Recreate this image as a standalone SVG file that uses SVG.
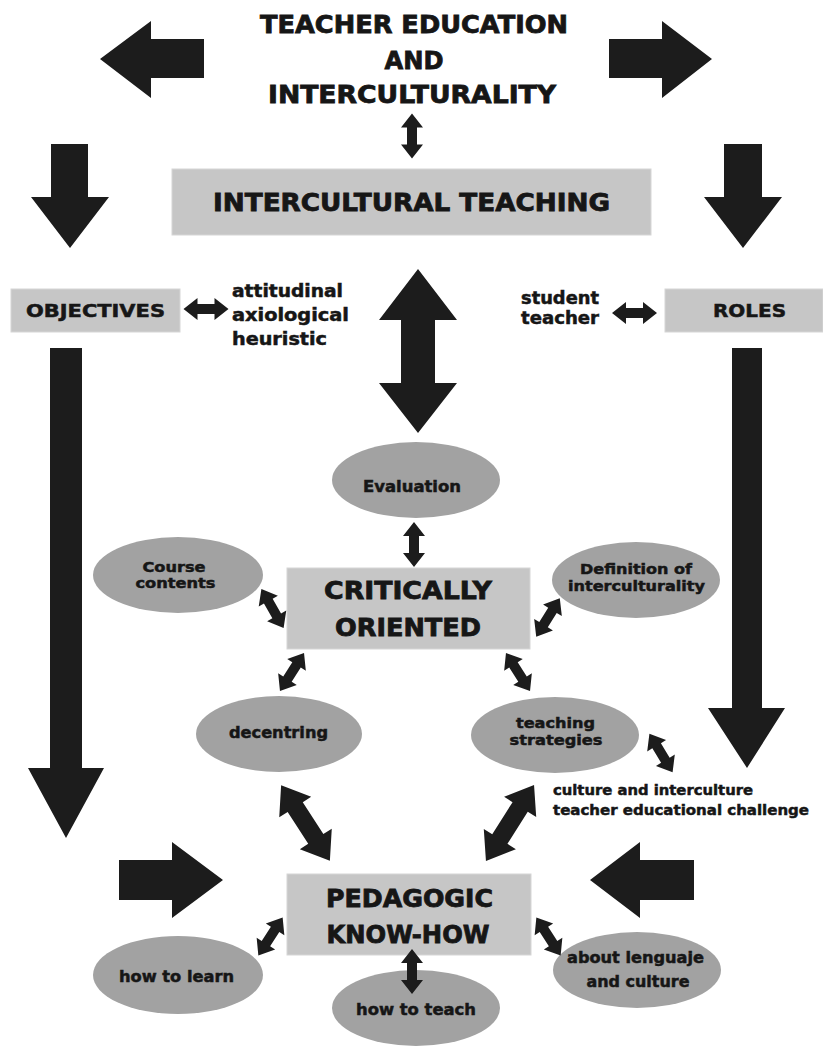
<svg xmlns="http://www.w3.org/2000/svg" xmlns:xlink="http://www.w3.org/1999/xlink" width="823" height="1046" viewBox="0 0 823 1046">
<style>
.box{fill:#c6c6c6;stroke:#d6d6d6;stroke-width:1}
.ell{fill:#a2a2a2}
.arr{fill:#1c1c1c}
text{font-family:"DejaVu Sans","Liberation Sans",sans-serif;font-weight:bold;fill:#161616;stroke:#161616;stroke-width:0.5}
.big{font-size:24px;stroke-width:0.8}
.mid{font-size:17px}
.sm{font-size:15px}
.sm2{font-size:14px}
.xs{font-size:14.5px}
.c{text-anchor:middle}
</style>
<defs>
<path id="da45" d="M-22.5,0 L-8.5,-11 L-8.5,-5 L8.5,-5 L8.5,-11 L22.5,0 L8.5,11 L8.5,5 L-8.5,5 L-8.5,11 Z"/>
<path id="da90" d="M-45,0 L-19,-19 L-19,-9 L19,-9 L19,-19 L45,0 L19,19 L19,9 L-19,9 L-19,19 Z"/>
</defs>
<rect width="823" height="1046" fill="#ffffff"/>

<g id="title">
<text class="big c" x="414" y="33" textLength="308" lengthAdjust="spacingAndGlyphs">TEACHER EDUCATION</text>
<text class="big c" x="414" y="69" textLength="59" lengthAdjust="spacingAndGlyphs">AND</text>
<text class="big c" x="412" y="103" textLength="288" lengthAdjust="spacingAndGlyphs">INTERCULTURALITY</text>
</g>

<g id="intercultural-teaching">
<rect class="box" x="172" y="169" width="479" height="66"/>
<text class="big c" x="411.5" y="211" textLength="397" lengthAdjust="spacingAndGlyphs">INTERCULTURAL TEACHING</text>
</g>

<g id="objectives">
<rect class="box" x="11" y="289" width="169" height="43"/>
<text class="mid c" x="95.5" y="317" textLength="139" lengthAdjust="spacingAndGlyphs">OBJECTIVES</text>
</g>

<g id="objectives-list">
<text class="mid" x="232" y="297" textLength="111" lengthAdjust="spacingAndGlyphs">attitudinal</text>
<text class="mid" x="232" y="321" textLength="117" lengthAdjust="spacingAndGlyphs">axiological</text>
<text class="mid" x="232" y="345" textLength="95" lengthAdjust="spacingAndGlyphs">heuristic</text>
</g>

<g id="roles-list">
<text class="mid" x="521" y="304" textLength="78" lengthAdjust="spacingAndGlyphs">student</text>
<text class="mid" x="521" y="324" textLength="78" lengthAdjust="spacingAndGlyphs">teacher</text>
</g>

<g id="roles">
<rect class="box" x="665" y="289" width="158" height="43"/>
<text class="mid c" x="749.5" y="317" textLength="73" lengthAdjust="spacingAndGlyphs">ROLES</text>
</g>

<g id="evaluation">
<ellipse class="ell" cx="416" cy="480" rx="84" ry="38"/>
<text class="sm c" x="412" y="492" textLength="98" lengthAdjust="spacingAndGlyphs">Evaluation</text>
</g>

<g id="course-contents">
<ellipse class="ell" cx="178" cy="575" rx="85" ry="38"/>
<text class="sm2 c" x="174" y="572" textLength="63" lengthAdjust="spacingAndGlyphs">Course</text>
<text class="sm2 c" x="175.5" y="588" textLength="80" lengthAdjust="spacingAndGlyphs">contents</text>
</g>

<g id="critically-oriented">
<rect class="box" x="287" y="568" width="243" height="81"/>
<text class="big c" x="408" y="599" textLength="168" lengthAdjust="spacingAndGlyphs">CRITICALLY</text>
<text class="big c" x="408" y="636" textLength="146" lengthAdjust="spacingAndGlyphs">ORIENTED</text>
</g>

<g id="definition">
<ellipse class="ell" cx="636" cy="580" rx="84" ry="38"/>
<text class="sm2 c" x="636" y="574" textLength="112" lengthAdjust="spacingAndGlyphs">Definition of</text>
<text class="sm2 c" x="636.5" y="591" textLength="137" lengthAdjust="spacingAndGlyphs">interculturality</text>
</g>

<g id="decentring">
<ellipse class="ell" cx="279" cy="734" rx="83" ry="38"/>
<text class="sm c" x="278.5" y="738" textLength="99" lengthAdjust="spacingAndGlyphs">decentring</text>
</g>

<g id="teaching-strategies">
<ellipse class="ell" cx="555" cy="735" rx="84" ry="38"/>
<text class="sm2 c" x="555.5" y="728" textLength="79" lengthAdjust="spacingAndGlyphs">teaching</text>
<text class="sm2 c" x="556" y="745" textLength="93" lengthAdjust="spacingAndGlyphs">strategies</text>
</g>

<g id="challenge">
<text class="xs" x="553" y="795" textLength="200" lengthAdjust="spacingAndGlyphs">culture and interculture</text>
<text class="xs" x="553" y="815" textLength="256" lengthAdjust="spacingAndGlyphs">teacher educational challenge</text>
</g>

<g id="pedagogic-know-how">
<rect class="box" x="287" y="874" width="244" height="81"/>
<text class="big c" x="409.5" y="907" textLength="167" lengthAdjust="spacingAndGlyphs">PEDAGOGIC</text>
<text class="big c" x="408" y="943" textLength="163" lengthAdjust="spacingAndGlyphs">KNOW-HOW</text>
</g>

<g id="how-to-learn">
<ellipse class="ell" cx="178" cy="975" rx="85" ry="39"/>
<text class="sm c" x="176.5" y="982" textLength="115" lengthAdjust="spacingAndGlyphs">how to learn</text>
</g>

<g id="how-to-teach">
<ellipse class="ell" cx="416" cy="1008" rx="84" ry="38"/>
<text class="sm c" x="416" y="1015" textLength="120" lengthAdjust="spacingAndGlyphs">how to teach</text>
</g>

<g id="about-language">
<ellipse class="ell" cx="637" cy="970" rx="84" ry="38"/>
<text class="sm c" x="635.5" y="963" textLength="137" lengthAdjust="spacingAndGlyphs">about lenguaje</text>
<text class="sm c" x="638" y="987" textLength="103" lengthAdjust="spacingAndGlyphs">and culture</text>
</g>

<g id="connectors" class="arr">
<polygon points="100,59 151,21 151,39 204,39 204,78 151,78 151,98"/>
<polygon points="609,39 662,39 662,21 712,59 662,98 662,78 609,78"/>
<polygon points="51,144 88,144 88,197 109,197 70,248 31,197 51,197"/>
<polygon points="724,144 762,144 762,197 782,197 743,248 704,197 724,197"/>
<polygon points="50,348 82,348 82,768 104,768 66,838 28,768 50,768"/>
<polygon points="732,348 762,348 762,708 785,708 747,768 708,708 732,708"/>
<polygon points="119,860 172,860 172,842 223,880 172,918 172,900 119,900"/>
<polygon points="694,860 640,860 640,842 590,880 640,918 640,900 694,900"/>
<polygon points="418,269 457,320 435,320 435,383 457,383 418,433 379,383 401,383 401,320 379,320"/>
<use xlink:href="#da45" transform="translate(412,136) rotate(90)"/>
<use xlink:href="#da45" transform="translate(206,309)"/>
<use xlink:href="#da45" transform="translate(634.5,313)"/>
<use xlink:href="#da45" transform="translate(414,544.5) rotate(90)"/>
<use xlink:href="#da45" transform="translate(272.5,608.5) rotate(60.4)"/>
<use xlink:href="#da45" transform="translate(548,617.5) rotate(121.6)"/>
<use xlink:href="#da45" transform="translate(292,672) rotate(122.3)"/>
<use xlink:href="#da45" transform="translate(518,672) rotate(57.7)"/>
<use xlink:href="#da45" transform="translate(661,753) rotate(59)"/>
<use xlink:href="#da45" transform="translate(270.5,936.5) rotate(-57.3)"/>
<use xlink:href="#da45" transform="translate(412,971.5) rotate(90)"/>
<use xlink:href="#da45" transform="translate(548.5,936.5) rotate(57.3)"/>
<use xlink:href="#da90" transform="translate(305.5,823) rotate(57.2)"/>
<use xlink:href="#da90" transform="translate(510,823) rotate(122.3)"/>
</g>
</svg>
